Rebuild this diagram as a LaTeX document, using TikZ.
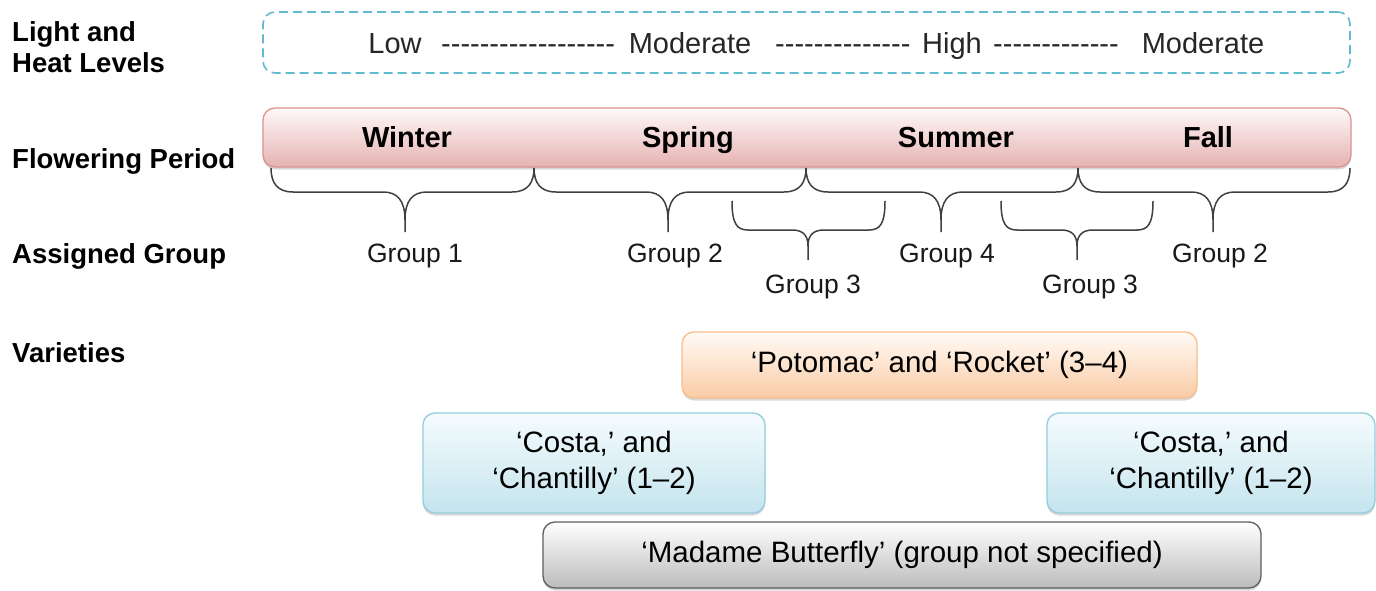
\documentclass[tikz,border=0pt]{standalone}
\usepackage{fontspec}
\setmainfont{Liberation Sans}
\usetikzlibrary{shadows}
\definecolor{dashblue}{RGB}{98,186,210}
\definecolor{barline}{RGB}{218,148,146}
\definecolor{bartop}{RGB}{255,248,248}
\definecolor{barbot}{RGB}{230,178,178}
\definecolor{orline}{RGB}{247,190,140}
\definecolor{ortop}{RGB}{255,251,246}
\definecolor{orbot}{RGB}{250,203,165}
\definecolor{blline}{RGB}{146,205,221}
\definecolor{bltop}{RGB}{246,252,254}
\definecolor{blbot}{RGB}{196,228,238}
\definecolor{grline}{RGB}{95,95,95}
\definecolor{grtop}{RGB}{255,255,255}
\definecolor{grbot}{RGB}{188,188,188}
\definecolor{bracecol}{RGB}{64,64,64}
\newcommand\hyphrun[1]{\foreach \k in {1,...,#1}{-\kern0pt}}
% x1 xt x2 y0 y1 y2 d w
\newcommand\drawbrace[8]{%
  \draw[bracestyle] (#1,#4) .. controls (#1,#5-#8*0.4) and (#1+#8*0.3,#5) .. (#1+#8,#5)
    -- (#2-#8,#5) .. controls (#2-#8*0.35,#5) and (#2,#5+#7*0.3) .. (#2,#5+#7) -- (#2,#6)
    (#2,#5+#7) .. controls (#2,#5+#7*0.3) and (#2+#8*0.35,#5) .. (#2+#8,#5)
    -- (#3-#8,#5) .. controls (#3-#8*0.3,#5) and (#3,#5-#8*0.4) .. (#3,#4);}
\tikzset{
  lbl/.style={font=\fontsize{27.5}{31}\selectfont\bfseries, inner sep=0pt, align=left},
  season/.style={font=\fontsize{29}{34}\selectfont\bfseries, anchor=base, inner sep=0pt},
  lvl/.style={font=\fontsize{29}{34}\selectfont, anchor=base, inner sep=0pt, text=black!85},
  hyph/.style={font=\fontsize{29}{34}\selectfont, anchor=base west, inner sep=0pt, text=black!85},
  grp/.style={font=\fontsize{26.5}{31}\selectfont, anchor=base, inner sep=0pt, text=black!90},
  bracestyle/.style={draw=bracecol, line width=1.5pt},
  vbox/.style={draw, rounded corners=12pt, line width=1.3pt,
    font=\fontsize{29.5}{36}\selectfont, align=center, inner sep=0pt,
    drop shadow={shadow xshift=0pt, shadow yshift=-2.5pt, opacity=0.3}},
  orbox/.style={vbox, draw=orline, top color=ortop, bottom color=orbot},
  blbox/.style={vbox, draw=blline, top color=bltop, bottom color=blbot},
  grbox/.style={vbox, draw=grline, top color=grtop, bottom color=grbot},
}
\begin{document}
\begin{tikzpicture}[x=1pt,y=-1pt]
\useasboundingbox (0,0) rectangle (1376,591);
\fill[white] (0,0) rectangle (1376,591);

% left labels
\node[lbl, anchor=west] (lightlbl) at (12,47.5) {Light and\\Heat Levels};
\node[lbl, anchor=base west] (flowlbl) at (12,168) {Flowering Period};
\node[lbl, anchor=base west] (grplbl) at (12,263) {Assigned Group};
\node[lbl, anchor=base west] (varlbl) at (12,362) {Varieties};

% light and heat levels
\node[draw=dashblue, line width=1.6pt, dash pattern=on 9pt off 5pt, rounded corners=12pt,
      minimum width=1087pt, minimum height=61pt, inner sep=0pt] (levels) at (806.5,42.5) {};
\node[lvl] (low) at (395,54) {Low};
\node[hyph] (d1) at (441,54) {\hyphrun{18}};
\node[lvl] (mod1) at (690,54) {Moderate};
\node[hyph] (d2) at (775,54) {\hyphrun{14}};
\node[lvl] (high) at (952,54) {High};
\node[hyph] (d3) at (993,54) {\hyphrun{13}};
\node[lvl] (mod2) at (1203,54) {Moderate};

% flowering period bar
\node[draw=barline, line width=1.3pt, rounded corners=12pt, top color=bartop, bottom color=barbot,
      minimum width=1088pt, minimum height=59pt, inner sep=0pt,
      drop shadow={shadow xshift=0pt, shadow yshift=-2.5pt, opacity=0.3}] (bar) at (807,137.5) {};
\node[season] (winter) at (407,148) {Winter};
\node[season] (spring) at (688,148) {Spring};
\node[season] (summer) at (956,148) {Summer};
\node[season] (fall) at (1208,148) {Fall};

% braces
\drawbrace{271}{405}{534}{168}{192}{232}{28}{22}
\drawbrace{534}{668}{806}{168}{192}{232}{28}{22}
\drawbrace{806}{941}{1078}{168}{192}{232}{28}{22}
\drawbrace{1078}{1213}{1350}{168}{192}{232}{28}{22}
\drawbrace{732}{808}{885}{201}{230}{260}{16}{16}
\drawbrace{1001}{1077}{1153}{201}{230}{260}{16}{16}

% groups
\node[grp] (g1) at (415,262) {Group 1};
\node[grp] (g2a) at (675,262) {Group 2};
\node[grp] (g4) at (947,262) {Group 4};
\node[grp] (g2b) at (1220,262) {Group 2};
\node[grp] (g3a) at (813,293) {Group 3};
\node[grp] (g3b) at (1090,293) {Group 3};

% varieties
\node[orbox, minimum width=515pt, minimum height=66pt] (potomac) at (939.5,365) {‘Potomac’ and ‘Rocket’ (3–4)};
\node[blbox, minimum width=342pt, minimum height=100pt] (costaL) at (594,463) {‘Costa,’ and\\‘Chantilly’ (1–2)};
\node[blbox, minimum width=328pt, minimum height=100pt] (costaR) at (1211,463) {‘Costa,’ and\\‘Chantilly’ (1–2)};
\node[grbox, minimum width=718pt, minimum height=66pt] (madame) at (902,555) {‘Madame Butterfly’ (group not specified)};
\end{tikzpicture}
\end{document}
